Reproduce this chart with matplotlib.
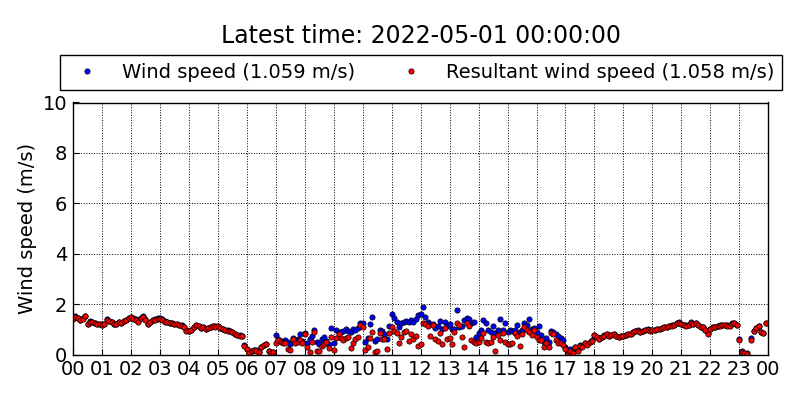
import matplotlib
matplotlib.use("Agg")
import matplotlib.pyplot as plt
import matplotlib.dates as mdates
import numpy as np
import pandas as pd

# 5-minute samples, one row per hour (12 values)
times = pd.date_range("2022-04-30 00:00", periods=288, freq="5min")

wind_speed = [
    1.43, 1.51, 1.46, 1.36, 1.43, 1.53, 1.23, 1.31, 1.29, 1.26, 1.21, 1.23,  # 00
    1.19, 1.23, 1.39, 1.33, 1.29, 1.23, 1.21, 1.29, 1.26, 1.33, 1.36, 1.46,  # 01
    1.49, 1.43, 1.39, 1.31, 1.46, 1.51, 1.39, 1.23, 1.29, 1.36, 1.39, 1.43,  # 02
    1.43, 1.39, 1.31, 1.29, 1.26, 1.26, 1.23, 1.21, 1.19, 1.16, 1.11, 0.96,  # 03
    0.93, 0.99, 1.11, 1.19, 1.13, 1.06, 1.09, 1.01, 1.06, 1.09, 1.14, 1.13,  # 04
    1.13, 1.06, 1.01, 0.99, 0.96, 0.93, 0.89, 0.83, 0.79, 0.76, 0.73, 0.36,  # 05
    0.21, 0.06, 0.13, 0.19, 0.16, 0.11, 0.29, 0.39, 0.43, 0.13, 0.06, 0.09,  # 06
    0.76, 0.62, 0.55, 0.50, 0.58, 0.48, 0.40, 0.65, 0.52, 0.62, 0.80, 0.55,  # 07
    0.84, 0.45, 0.62, 0.75, 0.98, 0.48, 0.42, 0.60, 0.68, 0.55, 0.40, 1.05,  # 08
    0.45, 0.97, 0.90, 0.88, 0.95, 1.00, 0.92, 0.90, 1.02, 0.96, 1.05, 1.24,  # 09
    1.24, 0.48, 0.65, 1.20, 1.50, 0.55, 0.60, 0.98, 0.95, 0.82, 0.60, 1.15,  # 10
    1.60, 1.45, 1.30, 1.08, 1.25, 1.30, 1.32, 1.28, 1.35, 1.30, 1.40, 1.55,  # 11
    1.61, 1.87, 1.50, 1.28, 1.22, 1.20, 1.05, 1.12, 1.32, 1.00, 1.30, 1.12,  # 12
    1.20, 1.02, 1.00, 1.77, 1.08, 1.12, 1.35, 1.44, 1.40, 1.24, 1.30, 0.70,  # 13
    0.84, 0.98, 1.37, 1.24, 0.98, 0.90, 1.14, 0.84, 0.98, 1.40, 0.96, 1.26,  # 14
    0.90, 0.97, 0.95, 0.97, 1.19, 0.90, 0.97, 1.24, 1.17, 1.40, 1.02, 1.04,  # 15
    0.88, 1.14, 0.78, 0.50, 0.64, 0.50, 0.95, 0.90, 0.82, 0.75, 0.64, 0.58,  # 16
    0.30, 0.14, 0.20, 0.08, 0.31, 0.22, 0.39, 0.33, 0.45, 0.43, 0.51, 0.57,  # 17
    0.79, 0.71, 0.63, 0.69, 0.76, 0.83, 0.73, 0.79, 0.81, 0.73, 0.69, 0.73,  # 18
    0.75, 0.79, 0.81, 0.83, 0.89, 0.93, 0.96, 0.91, 0.95, 0.98, 1.00, 0.96,  # 19
    0.97, 0.99, 1.01, 1.03, 1.06, 1.09, 1.11, 1.13, 1.16, 1.19, 1.25, 1.27,  # 20
    1.21, 1.17, 1.16, 1.19, 1.27, 1.23, 1.25, 1.17, 1.11, 1.09, 0.99, 0.86,  # 21
    1.01, 1.09, 1.11, 1.13, 1.16, 1.17, 1.17, 1.16, 1.16, 1.24, 1.25, 1.19,  # 22
    0.60, 0.12, 0.07, 0.04, np.nan, 0.64, 0.94, 1.06, 1.13, 0.91, 0.86, 1.25,  # 23
]

resultant_speed = [
    1.42, 1.50, 1.45, 1.35, 1.42, 1.52, 1.22, 1.30, 1.28, 1.25, 1.20, 1.22,  # 00
    1.18, 1.22, 1.38, 1.32, 1.28, 1.22, 1.20, 1.28, 1.25, 1.32, 1.35, 1.45,  # 01
    1.48, 1.42, 1.38, 1.30, 1.45, 1.50, 1.38, 1.22, 1.28, 1.35, 1.38, 1.42,  # 02
    1.42, 1.38, 1.30, 1.28, 1.25, 1.25, 1.22, 1.20, 1.18, 1.15, 1.10, 0.95,  # 03
    0.92, 0.98, 1.10, 1.18, 1.12, 1.05, 1.08, 1.00, 1.05, 1.08, 1.12, 1.10,  # 04
    1.12, 1.05, 1.00, 0.98, 0.95, 0.92, 0.88, 0.82, 0.78, 0.75, 0.72, 0.35,  # 05
    0.20, 0.05, 0.12, 0.18, 0.15, 0.10, 0.28, 0.38, 0.42, 0.12, 0.05, 0.08,  # 06
    0.44, 0.58, 0.50, 0.45, 0.45, 0.22, 0.18, 0.60, 0.46, 0.48, 0.58, 0.44,  # 07
    0.80, 0.30, 0.09, 0.50, 0.88, 0.12, 0.12, 0.35, 0.42, 0.48, 0.25, 0.70,  # 08
    0.18, 0.64, 0.82, 0.65, 0.58, 0.67, 0.70, 0.25, 0.44, 0.62, 0.68, 1.17,  # 09
    1.10, 0.18, 0.30, 0.65, 0.89, 0.09, 0.12, 0.84, 0.62, 0.62, 0.20, 0.85,  # 10
    1.10, 0.95, 0.84, 0.45, 0.70, 0.90, 0.95, 0.52, 0.80, 0.62, 0.75, 0.35,  # 11
    0.40, 1.25, 1.20, 1.15, 0.75, 1.18, 0.60, 0.53, 0.85, 0.40, 1.05, 0.62,  # 12
    0.67, 0.40, 0.90, 1.24, 1.18, 0.70, 0.31, 1.24, 1.13, 0.58, 0.51, 0.44,  # 13
    0.51, 0.64, 0.84, 0.51, 0.44, 0.51, 0.71, 0.14, 0.77, 0.58, 0.84, 0.48,  # 14
    0.42, 0.42, 0.44, 0.87, 0.73, 0.34, 0.80, 1.10, 0.97, 0.90, 0.77, 0.97,  # 15
    0.71, 0.58, 0.58, 0.31, 0.44, 0.31, 0.84, 0.81, 0.58, 0.44, 0.44, 0.38,  # 16
    0.20, 0.03, 0.12, 0.04, 0.28, 0.12, 0.35, 0.30, 0.44, 0.38, 0.48, 0.55,  # 17
    0.78, 0.70, 0.62, 0.68, 0.75, 0.82, 0.72, 0.78, 0.80, 0.72, 0.68, 0.72,  # 18
    0.74, 0.78, 0.80, 0.82, 0.88, 0.92, 0.95, 0.90, 0.94, 0.97, 0.99, 0.95,  # 19
    0.96, 0.98, 1.00, 1.02, 1.05, 1.08, 1.10, 1.12, 1.15, 1.18, 1.24, 1.26,  # 20
    1.20, 1.16, 1.15, 1.18, 1.26, 1.22, 1.24, 1.16, 1.10, 1.08, 0.98, 0.82,  # 21
    1.00, 1.08, 1.10, 1.12, 1.15, 1.16, 1.16, 1.15, 1.15, 1.20, 1.24, 1.18,  # 22
    0.58, 0.10, 0.06, 0.03, np.nan, 0.58, 0.92, 1.05, 1.12, 0.90, 0.85, 1.24,  # 23
]

ws_label = "Wind speed (1.059 m/s)"
rs_label = "Resultant wind speed (1.058 m/s)"
title = "Latest time: 2022-05-01 00:00:00"

fig = plt.figure(figsize=(8, 4), dpi=100)
ax = fig.add_axes([0.0913, 0.11375, 0.869, 0.63])

ax.plot(times, wind_speed, "o", color="blue", mec="black", mew=0.5, ms=3.8,
        label=ws_label)
ax.plot(times, resultant_speed, "o", color="red", mec="black", mew=0.5, ms=3.8,
        label=rs_label)

ax.set_xlim(pd.Timestamp("2022-04-30 00:00"), pd.Timestamp("2022-05-01 00:00"))
ax.set_ylim(0, 10)
ax.set_yticks([0, 2, 4, 6, 8, 10])
ax.xaxis.set_major_locator(mdates.HourLocator())
ax.xaxis.set_major_formatter(mdates.DateFormatter("%H"))
ax.tick_params(direction="in", length=4, labelsize=14, pad=4)
ax.grid(True, color="black", linestyle=":", linewidth=0.7)
for sp in ax.spines.values():
    sp.set_linewidth(1.0)

ax.set_ylabel("Wind speed (m/s)", fontsize=14)
ax.set_title(title, fontsize=17, pad=43)

fig.legend(loc="lower left", bbox_to_anchor=(0.075, 0.775, 0.9025, 0.0875),
           mode="expand", ncol=2, numpoints=1, fontsize=14, fancybox=False,
           edgecolor="black", framealpha=1, borderaxespad=0)
leg = fig.legends[0]
leg.get_frame().set_linewidth(1.0)

fig.savefig("out.png", dpi=100)
